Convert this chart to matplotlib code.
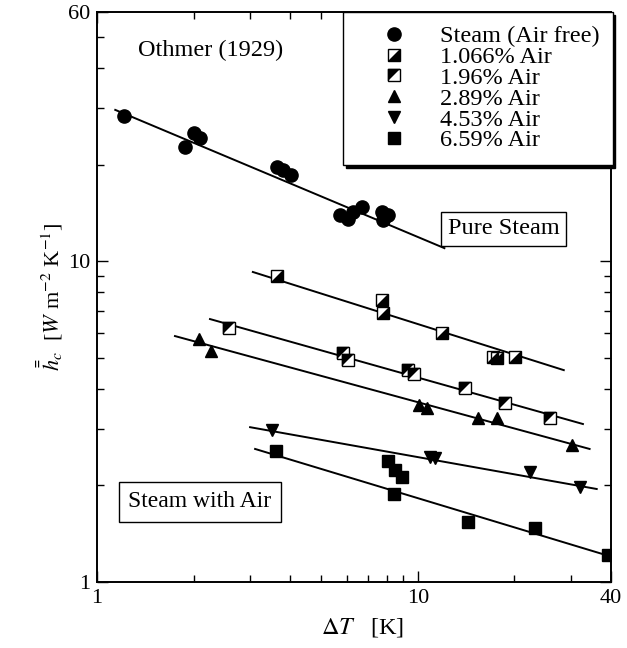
"""Othmer (1929) condensation data: mean heat transfer coefficient vs. temperature drop."""
import matplotlib

matplotlib.use("Agg")
import matplotlib.pyplot as plt
from matplotlib.legend_handler import HandlerTuple

# ── Data ─────────────────────────────────────────────────────────
STEAM_X = [1.21, 1.88, 2.00, 2.09, 3.64, 3.80, 4.02, 5.71, 6.05, 6.27, 6.69, 7.72, 7.78, 8.06]
STEAM_Y = [28.4, 22.7, 25.2, 24.3, 19.7, 19.3, 18.6, 13.95, 13.6, 14.3, 14.8, 14.3, 13.5, 13.95]
STEAM_FIT_X = [1.14, 12.1]
STEAM_FIT_Y = [29.7, 11.0]

AIR1066_X = [3.64, 7.72, 7.78, 11.9, 17.1, 17.6, 20.1]
AIR1066_Y = [9.00, 7.58, 6.90, 5.98, 5.03, 5.00, 5.03]
AIR1066_FIT_X = [3.06, 28.5]
AIR1066_FIT_Y = [9.27, 4.58]

AIR196_X = [2.58, 5.84, 6.05, 9.31, 9.72, 14.0, 18.7, 25.8]
AIR196_Y = [6.20, 5.18, 4.92, 4.59, 4.45, 4.03, 3.62, 3.25]
AIR196_FIT_X = [2.25, 32.7]
AIR196_FIT_Y = [6.61, 3.11]

AIR289_X = [2.08, 2.26, 10.1, 10.7, 15.4, 17.6, 30.2]
AIR289_Y = [5.73, 5.25, 3.57, 3.49, 3.25, 3.25, 2.67]
AIR289_FIT_X = [1.75, 34.3]
AIR289_FIT_Y = [5.85, 2.60]

AIR453_X = [3.51, 10.9, 11.3, 22.3, 32.0]
AIR453_Y = [2.98, 2.45, 2.44, 2.20, 1.98]
AIR453_FIT_X = [3.0, 36.1]
AIR453_FIT_Y = [3.04, 1.95]

AIR659_X = [3.61, 8.06, 8.48, 8.92, 8.42, 14.3, 23.1, 39.1]
AIR659_Y = [2.56, 2.38, 2.24, 2.13, 1.88, 1.54, 1.47, 1.21]
AIR659_FIT_X = [3.11, 40.0]
AIR659_FIT_Y = [2.60, 1.20]

LABELS = ["Steam (Air free)", "1.066% Air", "1.96% Air", "2.89% Air", "4.53% Air", "6.59% Air"]
X_TICKS = [1, 10, 40]
Y_TICKS = [1, 10, 60]

# half-filled square markers (black triangle inside an open square)
TRI_LOWER_RIGHT = [(-1, -1), (1, -1), (1, 1)]
TRI_UPPER_LEFT = [(-1, -1), (-1, 1), (1, 1)]

plt.rcParams["font.family"] = ["Liberation Serif", "DejaVu Serif"]
plt.rcParams["mathtext.fontset"] = "stix"


def half_square(ax, x, y, tri, ms=8.2):
    sq, = ax.plot(x, y, ls="none", marker="s", ms=ms, mfc="white", mec="black", mew=1.0, zorder=3)
    tr, = ax.plot(x, y, ls="none", marker=tri, ms=ms, mfc="black", mec="black", mew=0.3, zorder=4)
    return (sq, tr)


def main():
    fig = plt.figure(figsize=(6.27, 6.48), dpi=100)
    ax = fig.add_axes([0.1547, 0.1019, 0.8198, 0.8796])
    ax.set_xscale("log")
    ax.set_yscale("log")

    lw = 1.4
    for fx, fy in [(STEAM_FIT_X, STEAM_FIT_Y), (AIR1066_FIT_X, AIR1066_FIT_Y),
                   (AIR196_FIT_X, AIR196_FIT_Y), (AIR289_FIT_X, AIR289_FIT_Y),
                   (AIR453_FIT_X, AIR453_FIT_Y), (AIR659_FIT_X, AIR659_FIT_Y)]:
        ax.plot(fx, fy, color="black", lw=lw, zorder=2)

    h_steam, = ax.plot(STEAM_X, STEAM_Y, ls="none", marker="o", ms=9.5, color="black", zorder=3)
    h_1066 = half_square(ax, AIR1066_X, AIR1066_Y, TRI_LOWER_RIGHT)
    h_196 = half_square(ax, AIR196_X, AIR196_Y, TRI_UPPER_LEFT)
    h_289, = ax.plot(AIR289_X, AIR289_Y, ls="none", marker="^", ms=9, color="black", zorder=3)
    h_453, = ax.plot(AIR453_X, AIR453_Y, ls="none", marker="v", ms=9, color="black", zorder=3)
    h_659, = ax.plot(AIR659_X, AIR659_Y, ls="none", marker="s", ms=9, color="black", zorder=3)

    ax.set_xlim(1, 40)
    ax.set_ylim(1, 60)
    ax.set_xticks(X_TICKS)
    ax.set_xticklabels([str(t) for t in X_TICKS])
    ax.set_yticks(Y_TICKS)
    ax.set_yticklabels([str(t) for t in Y_TICKS])
    ax.yaxis.set_minor_formatter(plt.NullFormatter())
    ax.xaxis.set_minor_formatter(plt.NullFormatter())
    ax.tick_params(which="both", direction="in", top=True, right=True, labelsize=16, width=1.0)
    ax.tick_params(which="major", length=8, pad=5)
    ax.tick_params(which="minor", length=5)
    for sp in ax.spines.values():
        sp.set_linewidth(1.4)

    ax.set_xlabel(r"$\Delta T$   [K]", fontsize=17.5, labelpad=6, x=0.517)
    ax.set_ylabel(r"$\bar{\bar{h}}_c$  [$W$ m$^{-2}$ K$^{-1}$]", fontsize=16, labelpad=2)

    ax.text(0.08, 0.932, "Othmer (1929)", transform=ax.transAxes, fontsize=17.5,
            ha="left", va="center")
    ax.text(0.791, 0.62, "Pure Steam", transform=ax.transAxes, fontsize=17.5,
            ha="center", va="center",
            bbox=dict(boxstyle="square,pad=0.27", fc="white", ec="black", lw=1.0))
    ax.text(0.2, 0.141, "Steam with Air", transform=ax.transAxes, fontsize=17,
            ha="center", va="center",
            bbox=dict(boxstyle="square,pad=0.4", fc="white", ec="black", lw=1.0))

    leg = ax.legend([h_steam, h_1066, h_196, h_289, h_453, h_659], LABELS,
                    handler_map={tuple: HandlerTuple(ndivide=1)},
                    loc="upper right", bbox_to_anchor=(1.003, 1.0), borderaxespad=0,
                    numpoints=1, fontsize=17.5, frameon=True, fancybox=False,
                    shadow={"color": "black", "alpha": 1.0},
                    handlelength=3.1, handletextpad=0.33, labelspacing=-0.05,
                    borderpad=0.55, markerscale=1.0)
    leg.get_frame().set_edgecolor("black")
    leg.get_frame().set_linewidth(1.0)
    leg.get_frame().set_alpha(1.0)

    fig.savefig("out.png", dpi=100)


if __name__ == "__main__":
    main()
